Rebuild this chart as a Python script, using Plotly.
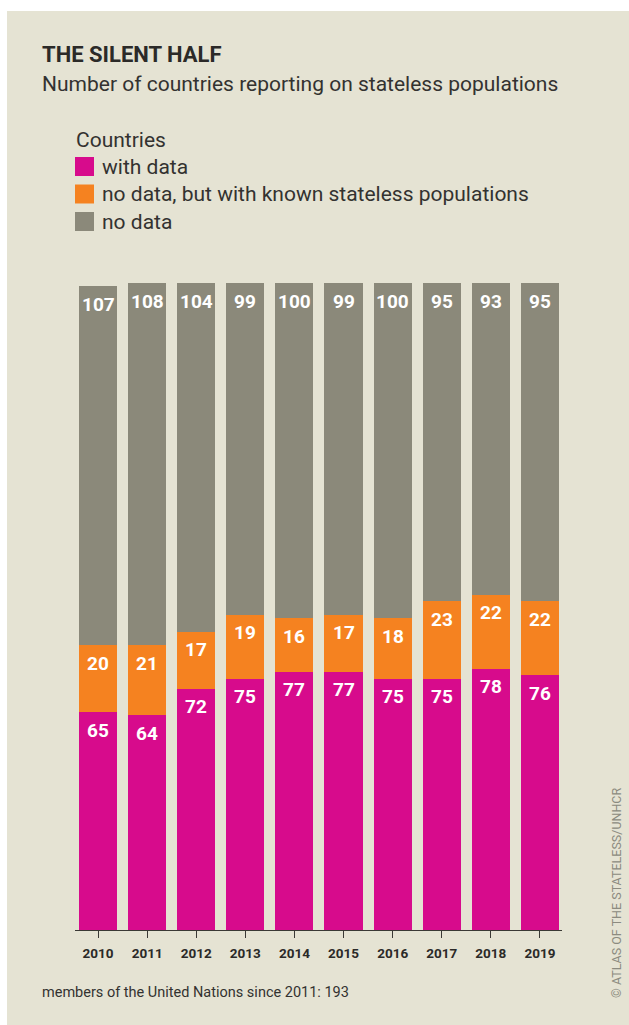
import plotly.graph_objects as go

# ---------------- data ----------------
years = [2010, 2011, 2012, 2013, 2014, 2015, 2016, 2017, 2018, 2019]
year_labels = [str(y) for y in years]
with_data = [65, 64, 72, 75, 77, 77, 75, 75, 78, 76]
known_stateless = [20, 21, 17, 19, 16, 17, 18, 23, 22, 22]
no_data = [107, 108, 104, 99, 100, 99, 100, 95, 93, 95]
series_names = ["with data", "no data, but with known stateless populations", "no data"]

title = "THE SILENT HALF"
subtitle = "Number of countries reporting on stateless populations"
legend_title = "Countries"
footnote = "members of the United Nations since 2011: 193"
credit = "© ATLAS OF THE STATELESS/UNHCR"

# ---------------- style ----------------
MAGENTA = "#d70b8c"
ORANGE = "#f58220"
GREY = "#8b897a"
BEIGE = "#e5e3d3"
DARK = "#2b2a28"
TXT = "#333230"
FONT = "Roboto"
colors = [MAGENTA, ORANGE, GREY]

W_FIG, H_FIG = 629, 1025
# plot area in page pixels
L, R, T, B = 75, 562, 283, 930
PW, PH = R - L, B - T


def xp(px):
    return (px - L) / PW


def yp(py):
    return (B - py) / PH


fig = go.Figure()
series = [with_data, known_stateless, no_data]
for vals, name, col in zip(series, series_names, colors):
    fig.add_trace(go.Bar(
        x=years, y=vals, name=name,
        marker=dict(color=col, line=dict(width=0)),
        width=0.776,
        showlegend=False,
        hoverinfo="x+y+name",
    ))

shapes = [
    # white frame strips at top and left of the beige card
    dict(type="rect", xref="paper", yref="paper",
         x0=xp(-50), x1=xp(700), y0=yp(11), y1=yp(-50),
         fillcolor="white", line=dict(width=0), layer="below"),
    dict(type="rect", xref="paper", yref="paper",
         x0=xp(-50), x1=xp(7), y0=yp(1100), y1=yp(-50),
         fillcolor="white", line=dict(width=0), layer="below"),
]
annotations = [
    dict(text=title, x=xp(40), y=yp(55), xref="paper", yref="paper",
         xanchor="left", yanchor="middle", showarrow=False,
         font=dict(family=FONT, size=22, color=DARK, weight=700)),
    dict(text=subtitle, x=xp(40), y=yp(84), xref="paper", yref="paper",
         xanchor="left", yanchor="middle", showarrow=False,
         font=dict(family=FONT, size=21, color=TXT)),
    dict(text=legend_title, x=xp(74), y=yp(140), xref="paper", yref="paper",
         xanchor="left", yanchor="middle", showarrow=False,
         font=dict(family=FONT, size=21, color=TXT)),
    dict(text=footnote, x=xp(40), y=yp(992), xref="paper", yref="paper",
         xanchor="left", yanchor="middle", showarrow=False,
         font=dict(family=FONT, size=14.5, color=TXT)),
    dict(text=credit, x=xp(616), y=yp(893), xref="paper", yref="paper",
         xanchor="center", yanchor="middle", showarrow=False, textangle=-90,
         font=dict(family=FONT, size=12.5, color="#8c8b80")),
]
legend_centers = [166.5, 194, 221.5]
for cy, name, col in zip(legend_centers, series_names, colors):
    shapes.append(dict(type="rect", xref="paper", yref="paper",
                       x0=xp(75), x1=xp(94), y0=yp(cy + 9.5), y1=yp(cy - 9.5),
                       fillcolor=col, line=dict(width=0)))
    annotations.append(dict(text=name, x=xp(100), y=yp(cy), xref="paper", yref="paper",
                            xanchor="left", yanchor="middle", showarrow=False,
                            font=dict(family=FONT, size=21, color=TXT)))

# value labels inside the top of each segment
for i, yr in enumerate(years):
    top = 0
    for vals in series:
        top += vals[i]
        annotations.append(dict(
            text=str(vals[i]), x=yr, y=top, xref="x", yref="y",
            xanchor="center", yanchor="middle", yshift=-18, showarrow=False,
            font=dict(family=FONT, size=19, color="white", weight=700)))

fig.update_layout(
    width=W_FIG, height=H_FIG,
    margin=dict(l=L, r=W_FIG - R, t=T, b=H_FIG - B, pad=0),
    paper_bgcolor=BEIGE,
    plot_bgcolor="rgba(0,0,0,0)",
    barmode="stack",
    bargap=0,
    shapes=shapes,
    annotations=annotations,
    showlegend=False,
    xaxis=dict(
        range=[years[0] - 0.47, years[-1] + 0.45],
        tickvals=years, ticktext=year_labels,
        showgrid=False, zeroline=False,
        showline=True, linecolor="#3a3935", linewidth=1.3,
        ticks="outside", ticklen=7, tickwidth=1.3, tickcolor="#3a3935",
        ticklabelstandoff=4,
        tickfont=dict(family=FONT, size=13.5, color=DARK, weight=700),
        fixedrange=True,
    ),
    yaxis=dict(range=[0, 193], visible=False, showgrid=False, zeroline=False,
               fixedrange=True),
)

fig.write_html(
    "out.html",
    config={"displayModeBar": False},
    post_script=(
        "document.documentElement.style.overflow='hidden';"
        "document.body.style.margin='0';"
        "document.body.style.overflow='hidden';"
        "document.documentElement.style.background='%s';"
        "document.body.style.background='%s';" % (BEIGE, BEIGE)
    ),
)
